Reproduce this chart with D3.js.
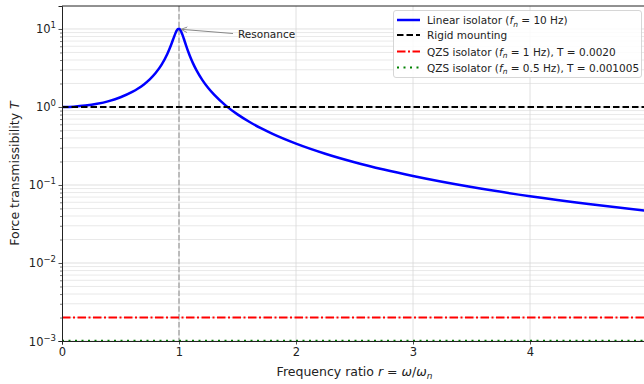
<!DOCTYPE html>
<html><head><meta charset="utf-8">
<script src="https://cdn.jsdelivr.net/npm/d3@7"></script>
<style>body{margin:0;background:#fff;overflow:hidden}svg{display:block}text{font-family:"DejaVu Sans",sans-serif;fill:#222}</style>
</head><body><svg id="c" width="644" height="384"></svg>
<script>
const ratioR = [0,0.1,0.2,0.3,0.4,0.5,0.6,0.65,0.7,0.75,0.8,0.85,0.9,0.92,0.94,0.95,0.96,0.97,0.98,0.99,1.0,1.01,1.02,1.03,1.04,1.05,1.06,1.08,1.1,1.12,1.15,1.2,1.25,1.3,1.4,1.5,1.6,1.7,1.8,2.0,2.25,2.5,2.75,3.0,3.5,4.0,4.5,5.0];
const linearT = [1,1.0101,1.0416,1.0988,1.1901,1.3320,1.5585,1.7244,1.9473,2.2592,2.7203,3.458,4.7758,5.6088,6.7132,7.379,8.1052,8.845,9.5062,9.951,10.05,9.760,9.1623,8.401,7.6056,6.852,6.1759,5.0702,4.2437,3.620,2.9399,2.2084,1.749,1.4362,1.0408,0.8032,0.6458,0.5345,0.4521,0.3392,0.2519,0.1961,0.1579,0.1304,0.09413,0.07178,0.05695,0.04657];
const rigidT = 1.0;
const qzs1T = 0.0020;
const qzs05T = 0.001005;
const xTicks = [0,1,2,3,4];
const yTicksExp = [-3,-2,-1,0,1];
const legendLabels = [
  ["Linear isolator (", "f", "n", " = 10 Hz)"],
  ["Rigid mounting"],
  ["QZS isolator (", "f", "n", " = 1 Hz), T = 0.0020"],
  ["QZS isolator (", "f", "n", " = 0.5 Hz), T = 0.001005"]
];

const svg = d3.select("#c");
const L=62, R=647, T=6, B=341;
const x = d3.scaleLinear().domain([0,5]).range([L,R]);
const y = d3.scaleLog().domain([1e-3,19.7]).range([B,T]);

const defs = svg.append("defs");
defs.append("clipPath").attr("id","clip").append("rect").attr("x",L).attr("y",T).attr("width",R-L).attr("height",B-T);
defs.append("marker").attr("id","arr").attr("viewBox","0 0 10 10").attr("refX",9).attr("refY",5)
  .attr("markerWidth",7).attr("markerHeight",7).attr("orient","auto")
  .append("path").attr("d","M0,1 L9,5 L0,9").attr("fill","none").attr("stroke","#888").attr("stroke-width",1.3);

// grid
const g = svg.append("g").attr("clip-path","url(#clip)");
const minors = [];
for (let e=-3;e<=1;e++) for (let m=2;m<=9;m++){const v=m*Math.pow(10,e); if(v<=19.7) minors.push(v);}
g.selectAll(".ymin").data(minors).join("line").attr("x1",L).attr("x2",R).attr("y1",d=>y(d)).attr("y2",d=>y(d))
  .attr("stroke","#e3e3e3").attr("stroke-width",0.8);
g.selectAll(".ymaj").data(yTicksExp.map(e=>Math.pow(10,e))).join("line").attr("x1",L).attr("x2",R).attr("y1",d=>y(d)).attr("y2",d=>y(d))
  .attr("stroke","#d8d8d8").attr("stroke-width",0.8);
g.selectAll(".xg").data(xTicks).join("line").attr("x1",d=>x(d)).attr("x2",d=>x(d)).attr("y1",T).attr("y2",B)
  .attr("stroke","#d8d8d8").attr("stroke-width",0.8);

// resonance vertical line
g.append("line").attr("x1",x(1)).attr("x2",x(1)).attr("y1",T).attr("y2",B)
  .attr("stroke","#aaa").attr("stroke-width",1.5).attr("stroke-dasharray","5.5,2.4");

// series
const line = d3.line().x(d=>x(d[0])).y(d=>y(d[1])).curve(d3.curveMonotoneX);
g.append("path").datum(ratioR.map((r,i)=>[r,linearT[i]])).attr("d",line)
  .attr("fill","none").attr("stroke","#0000ff").attr("stroke-width",2.5);
g.append("path").datum([[0,rigidT],[5,rigidT]]).attr("d",line)
  .attr("fill","none").attr("stroke","#000").attr("stroke-width",2).attr("stroke-dasharray","6.5,3");
g.append("path").datum([[0,qzs1T],[5,qzs1T]]).attr("d",line)
  .attr("fill","none").attr("stroke","#ff0000").attr("stroke-width",2).attr("stroke-dasharray","8.5,2.5,2,2.5");
g.append("path").datum([[0,qzs05T],[5,qzs05T]]).attr("d",line)
  .attr("fill","none").attr("stroke","#008000").attr("stroke-width",2).attr("stroke-dasharray","2,4.5");

// axes
const ax = svg.append("g").attr("transform",`translate(0,${B})`)
  .call(d3.axisBottom(x).tickValues(xTicks).tickSize(3.5).tickPadding(3.5).tickFormat(d3.format("d")));
const ay = svg.append("g").attr("transform",`translate(${L},0)`)
  .call(d3.axisLeft(y).tickValues(yTicksExp.map(e=>Math.pow(10,e))).tickSize(3.5).tickPadding(3.5).tickFormat(""));
svg.append("g").attr("transform",`translate(${L},0)`)
  .call(d3.axisLeft(y).tickValues(minors).tickSize(2).tickFormat(""))
  .call(s=>{s.select(".domain").remove(); s.selectAll("line").attr("stroke","#222").attr("stroke-width",0.6);});
[ax,ay].forEach(a=>{a.select(".domain").attr("stroke","#222").attr("stroke-width",1);
  a.selectAll(".tick line").attr("stroke","#222").attr("stroke-width",0.8);
  a.selectAll("text").attr("font-size",11.5).attr("font-family","DejaVu Sans").attr("fill","#222");});
// top spine
svg.append("line").attr("x1",L).attr("x2",R).attr("y1",T).attr("y2",T).attr("stroke","#222").attr("stroke-width",1);

// y tick labels with superscripts
yTicksExp.forEach(e=>{
  const t = svg.append("text").attr("x",L-6).attr("y",y(Math.pow(10,e))+4.5).attr("text-anchor","end").attr("font-size",11.5);
  t.append("tspan").text("10");
  t.append("tspan").attr("dy",-5).attr("font-size",8.5).text(e<0?"\u2212"+(-e):String(e));
});

// axis labels
const xl = svg.append("text").attr("x",(L+R)/2).attr("y",376).attr("text-anchor","middle").attr("font-size",12.5);
xl.append("tspan").text("Frequency ratio ");
xl.append("tspan").attr("font-style","italic").text("r");
xl.append("tspan").text(" = ");
xl.append("tspan").attr("font-style","italic").text("ω");
xl.append("tspan").text("/");
xl.append("tspan").attr("font-style","italic").text("ω");
xl.append("tspan").attr("font-style","italic").attr("font-size",9).attr("dy",3).text("n");
const yl = svg.append("text").attr("transform",`translate(19,${(T+B)/2}) rotate(-90)`).attr("text-anchor","middle").attr("font-size",12.5);
yl.append("tspan").text("Force transmissibility ");
yl.append("tspan").attr("font-style","italic").text("T");

// annotation
svg.append("line").attr("x1",233).attr("y1",33.5).attr("x2",x(1)+2).attr("y2",y(10.05)+0.5)
  .attr("stroke","#888").attr("stroke-width",1).attr("marker-end","url(#arr)");
svg.append("text").attr("x",238).attr("y",38).attr("font-size",10.5).text("Resonance");

// legend
const lg = svg.append("g");
lg.append("rect").attr("x",393.5).attr("y",10.5).attr("width",248).attr("height",67).attr("rx",2.5)
  .attr("fill","rgba(255,255,255,0.85)").attr("stroke","#ccc").attr("stroke-width",0.8);
const legStyles = [
  {c:"#0000ff",w:2.5,d:null},{c:"#000",w:2,d:"6.5,3"},{c:"#ff0000",w:2,d:"8.5,2.5,2,2.5"},{c:"#008000",w:2,d:"2,4.5"}];
const legY = [20,35,51.5,67.5];
legendLabels.forEach((lab,i)=>{
  const s=legStyles[i];
  lg.append("line").attr("x1",397).attr("x2",420).attr("y1",legY[i]).attr("y2",legY[i])
    .attr("stroke",s.c).attr("stroke-width",s.w).attr("stroke-dasharray",s.d);
  const t=lg.append("text").attr("x",427).attr("y",legY[i]+4).attr("font-size",10.5);
  if(lab.length===1){t.append("tspan").text(lab[0]);}
  else{
    t.append("tspan").text(lab[0]);
    t.append("tspan").attr("font-style","italic").text(lab[1]);
    t.append("tspan").attr("font-style","italic").attr("font-size",7.5).attr("dy",2.5).text(lab[2]);
    t.append("tspan").attr("dy",-2.5).text(lab[3]);
  }
});
</script></body></html>
